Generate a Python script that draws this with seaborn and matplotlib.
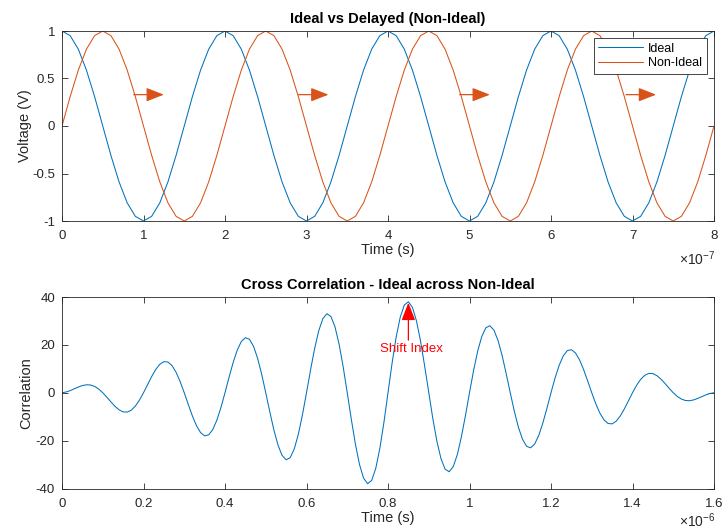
import numpy as np
import pandas as pd
import matplotlib
matplotlib.use("Agg")
import matplotlib.pyplot as plt
import seaborn as sns

# ---------------- data ----------------
# samples every 10 ns over 0..800 ns
ideal = [1, 0.951, 0.809, 0.588, 0.309, 0, -0.309, -0.588, -0.809, -0.951,
         -1, -0.951, -0.809, -0.588, -0.309, 0, 0.309, 0.588, 0.809, 0.951,
         1, 0.951, 0.809, 0.588, 0.309, 0, -0.309, -0.588, -0.809, -0.951,
         -1, -0.951, -0.809, -0.588, -0.309, 0, 0.309, 0.588, 0.809, 0.951,
         1, 0.951, 0.809, 0.588, 0.309, 0, -0.309, -0.588, -0.809, -0.951,
         -1, -0.951, -0.809, -0.588, -0.309, 0, 0.309, 0.588, 0.809, 0.951,
         1, 0.951, 0.809, 0.588, 0.309, 0, -0.309, -0.588, -0.809, -0.951,
         -1, -0.951, -0.809, -0.588, -0.309, 0, 0.309, 0.588, 0.809, 0.951,
         1]
non_ideal = [0, 0.309, 0.588, 0.809, 0.951, 1, 0.951, 0.809, 0.588, 0.309,
             0, -0.309, -0.588, -0.809, -0.951, -1, -0.951, -0.809, -0.588, -0.309,
             0, 0.309, 0.588, 0.809, 0.951, 1, 0.951, 0.809, 0.588, 0.309,
             0, -0.309, -0.588, -0.809, -0.951, -1, -0.951, -0.809, -0.588, -0.309,
             0, 0.309, 0.588, 0.809, 0.951, 1, 0.951, 0.809, 0.588, 0.309,
             0, -0.309, -0.588, -0.809, -0.951, -1, -0.951, -0.809, -0.588, -0.309,
             0, 0.309, 0.588, 0.809, 0.951, 1, 0.951, 0.809, 0.588, 0.309,
             0, -0.309, -0.588, -0.809, -0.951, -1, -0.951, -0.809, -0.588, -0.309,
             0]
t_top = np.arange(len(ideal)) * 1e-8

corr = [0, 0.31, 0.88, 1.62, 2.38, 3.00, 3.33, 3.24, 2.65, 1.55,
        0, -1.85, -3.82, -5.66, -7.13, -8.00, -8.08, -7.28, -5.58, -3.09,
        0, 3.40, 6.76, 9.71, 11.89, 13.00, 12.84, 11.33, 8.52, 4.64,
        0, -4.94, -9.70, -13.75, -16.64, -18.00, -17.59, -15.37, -11.46, -6.18,
        0, 6.49, 12.64, 17.80, 21.40, 23.00, 22.35, 19.42, 14.40, 7.73,
        0, -8.03, -15.58, -21.84, -26.15, -28.00, -27.11, -23.46, -17.34, -9.27,
        0, 9.58, 18.52, 25.89, 30.91, 33.00, 31.86, 27.51, 20.28, 10.82,
        0, -11.12, -21.45, -29.93, -35.66, -38.00, -36.62, -31.55, -23.22, -12.36,
        0,
        12.36, 23.22, 31.55, 36.62, 38.00, 35.66, 29.93, 21.45, 11.12, 0,
        -10.82, -20.28, -27.51, -31.86, -33.00, -30.91, -25.89, -18.52, -9.58, 0,
        9.27, 17.34, 23.46, 27.11, 28.00, 26.15, 21.84, 15.58, 8.03, 0,
        -7.73, -14.40, -19.42, -22.35, -23.00, -21.40, -17.80, -12.64, -6.49, 0,
        6.18, 11.46, 15.37, 17.59, 18.00, 16.64, 13.75, 9.70, 4.94, 0,
        -4.64, -8.52, -11.33, -12.84, -13.00, -11.89, -9.71, -6.76, -3.40, 0,
        3.09, 5.58, 7.28, 8.08, 8.00, 7.13, 5.66, 3.82, 1.85, 0,
        -1.55, -2.65, -3.24, -3.33, -3.00, -2.38, -1.62, -0.88, -0.31, 0]
t_corr = np.arange(len(corr)) * 1e-8

top_xticks = [0, 1, 2, 3, 4, 5, 6, 7, 8]
top_yticks = [-1, -0.5, 0, 0.5, 1]
bot_xticks = [0, 0.2, 0.4, 0.6, 0.8, 1.0, 1.2, 1.4, 1.6]
bot_yticks = [-40, -20, 0, 20, 40]

# ---------------- style ----------------
sns.set_theme(style="white")
plt.rcParams['font.family'] = ['Liberation Sans', 'DejaVu Sans']
plt.rcParams['axes.unicode_minus'] = False
plt.rcParams['mathtext.default'] = 'regular'

AX_C = '#262626'
BLUE = '#0072BD'
ORANGE = '#D95319'

fig = plt.figure(figsize=(7.23, 5.31), dpi=100)
W, H = 723, 531
def rect(l, t, r, b):
    return [l / W, 1 - b / H, (r - l) / W, (b - t) / H]

ax1 = fig.add_axes(rect(62, 31, 714, 221))
ax2 = fig.add_axes(rect(62, 297, 714, 488.5))

df_top = pd.DataFrame({'t': t_top, 'Ideal': ideal, 'Non-Ideal': non_ideal})
sns.lineplot(data=df_top, x='t', y='Ideal', ax=ax1, color=BLUE, lw=0.75, label='Ideal')
sns.lineplot(data=df_top, x='t', y='Non-Ideal', ax=ax1, color=ORANGE, lw=0.75, label='Non-Ideal')

df_bot = pd.DataFrame({'t': t_corr, 'corr': corr})
sns.lineplot(data=df_bot, x='t', y='corr', ax=ax2, color=BLUE, lw=0.75)

def style(ax, xt, xscale, yt, xlim, ylim):
    ax.set_xlim(*xlim)
    ax.set_ylim(*ylim)
    ax.set_xticks([v * xscale for v in xt])
    ax.set_xticklabels([('%g' % v) for v in xt])
    ax.set_yticks(yt)
    ax.set_yticklabels([('%g' % v) for v in yt])
    for s in ax.spines.values():
        s.set_visible(True)
        s.set_color(AX_C)
        s.set_linewidth(0.6)
    ax.tick_params(direction='in', length=4.5, width=0.6, color=AX_C,
                   labelcolor=AX_C, labelsize=9.5, top=True, right=True,
                   bottom=True, left=True)
    ax.tick_params(axis='x', pad=6.5)
    ax.tick_params(axis='y', pad=5)
    ax.grid(False)

style(ax1, top_xticks, 1e-7, top_yticks, (0, 8e-7), (-1, 1))
style(ax2, bot_xticks, 1e-6, bot_yticks, (0, 1.6e-6), (-40, 40))

ax1.set_title('Ideal vs Delayed (Non-Ideal)', fontsize=10.5, fontweight='bold', color='black', pad=6)
ax2.set_title('Cross Correlation - Ideal across Non-Ideal', fontsize=10.5, fontweight='bold', color='black', pad=6)
ax1.set_xlabel('Time (s)', fontsize=10.5, color=AX_C, labelpad=1)
ax1.set_ylabel('Voltage (V)', fontsize=10.5, color=AX_C, labelpad=0)
ax2.set_xlabel('Time (s)', fontsize=10.5, color=AX_C, labelpad=1)
ax2.set_ylabel('Correlation', fontsize=10.5, color=AX_C, labelpad=2)

fig.text(697 / W, 1 - 259 / H, r'$\times10^{-7}$', fontsize=10, color=AX_C, ha='center', va='center')
fig.text(697 / W, 1 - 521 / H, r'$\times10^{-6}$', fontsize=10, color=AX_C, ha='center', va='center')

leg = ax1.legend(loc='upper right', fontsize=9, frameon=True, fancybox=False,
                 edgecolor=AX_C, framealpha=1, borderpad=0.35, labelspacing=0.2,
                 handlelength=3.6, handletextpad=0.4, borderaxespad=0.6)
leg.get_frame().set_linewidth(0.6)
for txt in leg.get_texts():
    txt.set_color('black')

# delay arrows
arrow_starts = [0.88e-7, 2.90e-7, 4.88e-7, 6.92e-7]
arrow_len = 0.37e-7
arrow_y = 0.33
for xs in arrow_starts:
    ax1.annotate('', xy=(xs + arrow_len, arrow_y), xytext=(xs, arrow_y),
                 arrowprops=dict(arrowstyle='-|>,head_length=0.9,head_width=0.35',
                                 color=ORANGE, lw=0.9, shrinkA=0, shrinkB=0,
                                 mutation_scale=12))

# shift index arrow
ax2.annotate('', xy=(0.85e-6, 37.6), xytext=(0.85e-6, 22),
             arrowprops=dict(arrowstyle='-|>,head_length=0.9,head_width=0.35',
                             color='red', lw=0.9, shrinkA=0, shrinkB=0, mutation_scale=12))
ax2.text(0.858e-6, 18.2, 'Shift Index', color='red', fontsize=9.5, ha='center', va='center')

fig.savefig('out.png', dpi=100)
